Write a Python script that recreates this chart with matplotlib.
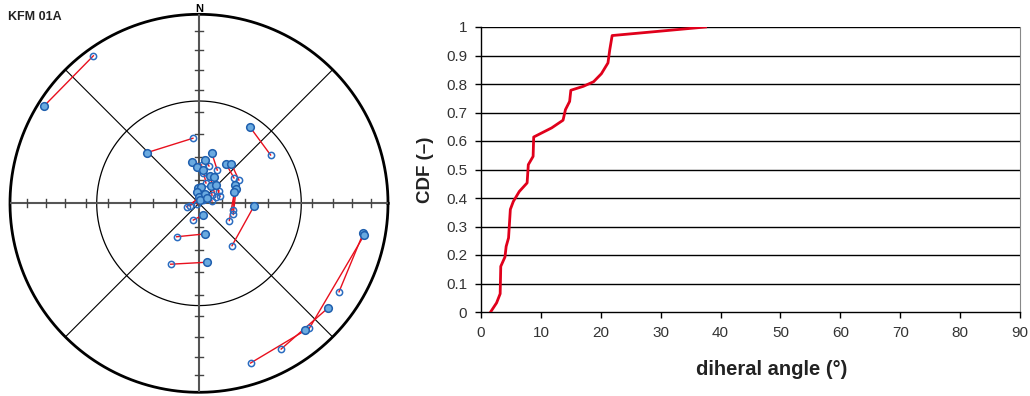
import matplotlib.pyplot as plt
import numpy as np

plt.rcParams['font.family'] = ['Liberation Sans', 'DejaVu Sans']

# stereonet pairs (lower hemisphere, equal area): filled end and open end
filled_trend = [302.1, 314.0, 33.9, 100.3, 100.7, 128.9, 140.1, 168.9, 172.6, 162.5, 92.8,
                34.5, 39.4, 63.1, 68.9, 72.3, 14.1, 8.3, 350.5, 356.4, 21.9, 28.9,
                34.7, 43.7, 357.3, 7.0, 352.4, 4.2, 32.8, 19.7, 6.8, 57.0]
filled_plunge = [3.6, 58.4, 49.9, 12.7, 11.9, 13.1, 13.4, 76.6, 64.3, 84.7, 66.2,
                 69.4, 68.0, 72.6, 72.9, 74.0, 67.5, 71.1, 71.8, 74.2, 77.4, 77.1,
                 81.0, 79.4, 83.6, 83.0, 85.1, 87.1, 85.2, 88.7, 75.6, 86.1]
open_trend = [324.4, 354.7, 56.0, 122.3, 138.6, 150.6, 162.1, 213.7, 204.9, 198.8, 142.1,
              54.1, 59.8, 101.2, 108.1, 119.6, 28.8, 15.0, 4.0, 8.4, 69.1, 72.1,
              59.0, 58.4, 54.4, 59.5, 50.5, 253.3, 254.5, 250.7, 19.0, 80.0]
open_plunge = [4.5, 61.7, 52.3, 13.4, 12.8, 12.5, 12.2, 72.7, 60.9, 82.4, 66.8,
               71.4, 70.1, 75.2, 74.5, 75.0, 73.7, 73.4, 73.5, 76.8, 82.4, 80.5,
               83.5, 79.9, 86.8, 85.5, 87.8, 86.0, 84.5, 89.1, 80.8, 84.3]

# CDF of dihedral angle
angle = [1.6, 2.6, 3.2, 3.3, 4.0, 4.2, 4.6, 4.9, 5.4, 6.4, 7.7, 7.9, 8.7, 8.8, 11.8,
         13.7, 14.1, 14.8, 15.0, 17.1, 18.8, 20.1, 21.2, 21.5, 21.9, 37.5]
cdf = [0.0, 0.032, 0.064, 0.16, 0.193, 0.23, 0.26, 0.36, 0.388, 0.423, 0.453, 0.517,
       0.546, 0.614, 0.646, 0.673, 0.71, 0.739, 0.778, 0.792, 0.808, 0.836, 0.874,
       0.92, 0.97, 1.0]


def project(trend, plunge):
    """equal-area (Schmidt) projection, lower hemisphere"""
    t = np.radians(np.asarray(trend))
    r = np.sqrt(2) * np.sin(np.radians(90 - np.asarray(plunge)) / 2)
    return r * np.sin(t), r * np.cos(t)


fig = plt.figure(figsize=(10.3, 3.96), dpi=100)

# --- stereonet ---
ax = fig.add_axes([10 / 1030, 3.7 / 396, 378 / 1030, 378 / 396])
ax.set_xlim(-1, 1)
ax.set_ylim(-1, 1)
ax.axis('off')

th = np.linspace(0, 2 * np.pi, 400)
ax.plot(np.cos(th), np.sin(th), color='black', lw=2, clip_on=False)
r45 = np.sqrt(2) * np.sin(np.radians(45) / 2)
ax.plot(r45 * np.cos(th), r45 * np.sin(th), color='black', lw=0.9)

d = np.sqrt(0.5)
ax.plot([-d, d], [-d, d], color='black', lw=0.8)
ax.plot([-d, d], [d, -d], color='black', lw=0.8)
ax.plot([-1, 1], [0, 0], color='#555555', lw=1.5)
ax.plot([0, 0], [-1, 1], color='#555555', lw=1.5)

tick_r = np.sqrt(2) * np.sin(np.radians(np.arange(10, 90, 10)) / 2)
tl = 0.022
for r in np.concatenate([tick_r, -tick_r]):
    ax.plot([r, r], [-tl, tl], color='#444444', lw=1)
    ax.plot([-tl, tl], [r, r], color='#444444', lw=1)

ax.text(0, 1.0, 'N', ha='center', va='bottom', fontsize=8, fontweight='bold')
fig.text(8 / 1030, 1 - 17 / 396, 'KFM 01A', ha='left', va='center', fontsize=9,
         fontweight='bold', color='#222222')

fx, fy = project(filled_trend, filled_plunge)
ox, oy = project(open_trend, open_plunge)
for i in range(len(fx)):
    ax.plot([fx[i], ox[i]], [fy[i], oy[i]], color='#e8101e', lw=1, zorder=3)
ax.plot(ox, oy, 'o', ms=4.5, mfc='none', mec='#2a6cc0', mew=1.1, zorder=4)
ax.plot(fx, fy, 'o', ms=5.5, mfc='#6aaae0', mec='#1f5fae', mew=1.1, zorder=5)

# --- CDF plot ---
bx = fig.add_axes([481 / 1030, 84 / 396, 539 / 1030, 285 / 396])
bx.plot(angle, cdf, color='#e0001b', lw=2, zorder=3)
bx.set_xlim(0, 90)
bx.set_ylim(0, 1)
bx.set_xticks(np.arange(0, 91, 10))
yt = np.round(np.arange(0, 1.01, 0.1), 1)
bx.set_yticks(yt)
bx.set_yticklabels(['0' if v == 0 else '1' if v == 1 else f'{v:g}' for v in yt])
for v in yt[1:]:
    bx.axhline(v, color='black', lw=1, zorder=1)
bx.tick_params(direction='out', length=4, width=1, labelsize=11, labelcolor='#333333', pad=6)
bx.spines['top'].set_visible(False)
bx.spines['right'].set_color('#888888')
bx.spines['left'].set_linewidth(1)
bx.spines['bottom'].set_linewidth(1)
bx.set_xlabel('diheral angle (°)', fontsize=14.5, fontweight='bold', color='#222222')
bx.xaxis.set_label_coords(0.54, -0.17)
bx.set_ylabel('CDF (–)', fontsize=13.5, fontweight='bold', color='#222222')
bx.yaxis.set_label_coords(-0.087, 0.5)

fig.savefig('out.png', dpi=100)
